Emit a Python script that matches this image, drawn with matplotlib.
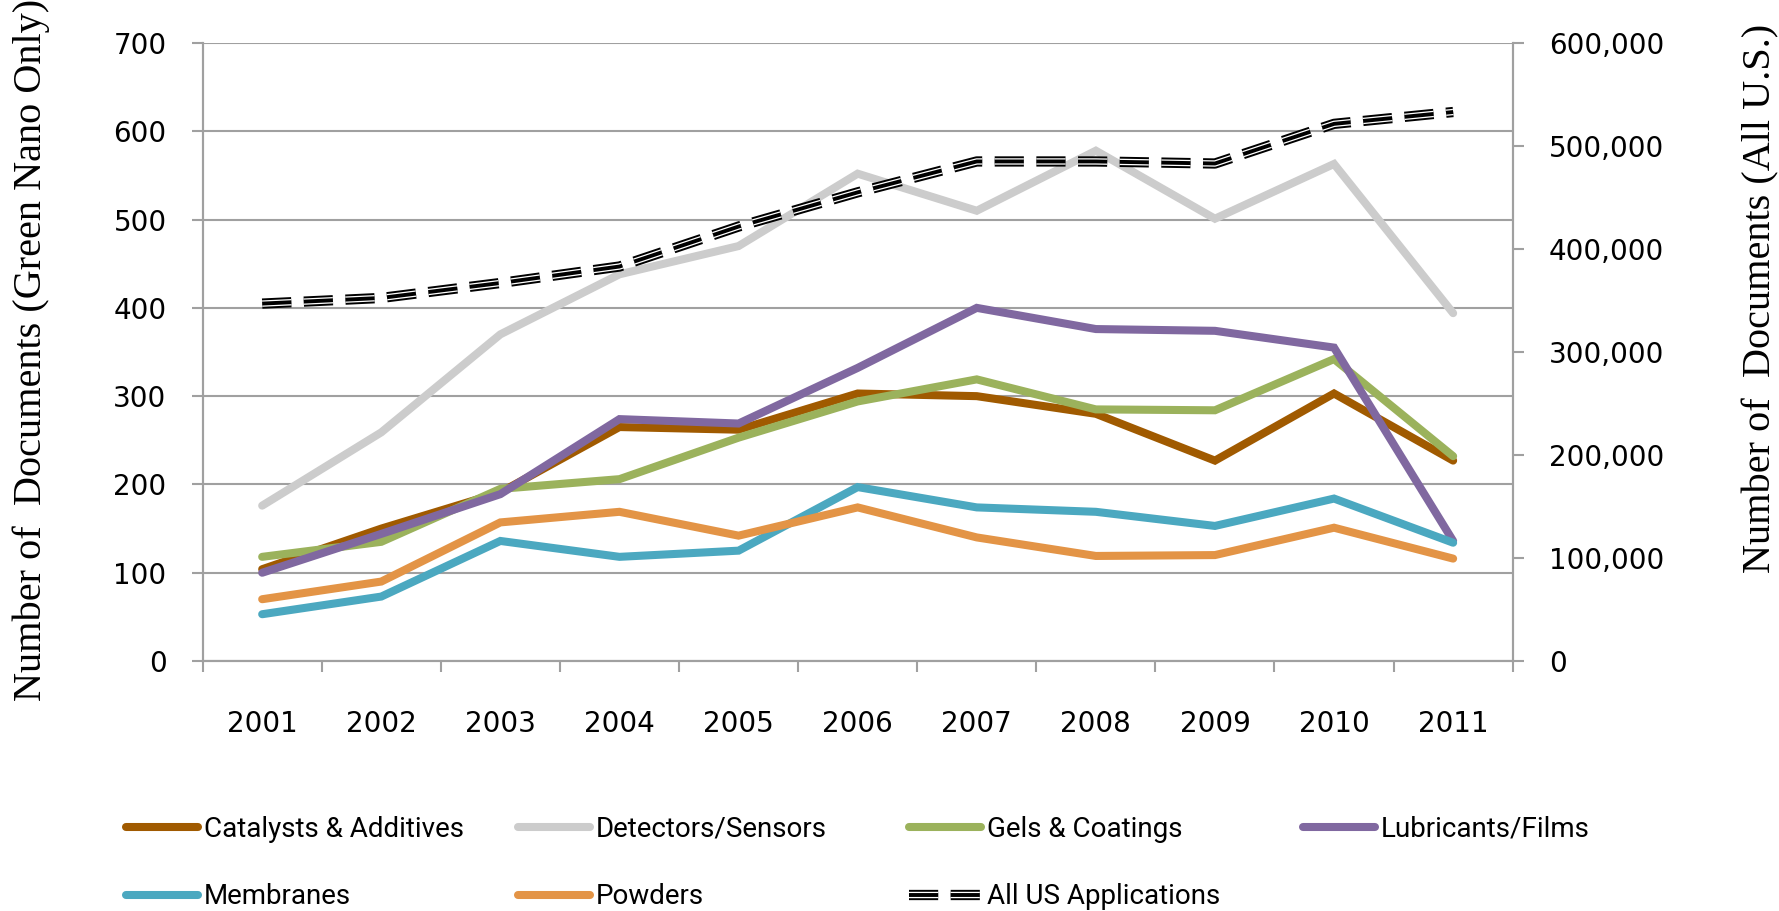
import matplotlib
matplotlib.use("Agg")
import matplotlib.pyplot as plt
import matplotlib.ticker as ticker

plt.rcParams['lines.scale_dashes'] = False

# datos
years = ['2001', '2002', '2003', '2004', '2005', '2006', '2007', '2008', '2009', '2010', '2011']
catalysts = [104, 150, 191, 265, 262, 303, 300, 280, 227, 303, 227]
detectors = [176, 259, 370, 438, 470, 552, 510, 578, 501, 563, 394]
gels = [118, 135, 195, 206, 253, 294, 319, 285, 284, 342, 232]
lubricants = [100, 144, 189, 274, 269, 332, 400, 376, 374, 355, 136]
membranes = [53, 73, 136, 118, 125, 197, 174, 169, 153, 184, 134]
powders = [70, 90, 157, 169, 142, 174, 140, 119, 120, 151, 116]
all_us = [347000, 352500, 367000, 383000, 421800, 455000, 485000, 485000, 483000, 521500, 533000]

series = [
    ("Catalysts & Additives", catalysts, "#A05A00"),
    ("Detectors/Sensors", detectors, "#CCCCCC"),
    ("Gels & Coatings", gels, "#9BB25C"),
    ("Lubricants/Films", lubricants, "#8068A0"),
    ("Membranes", membranes, "#4BA8C0"),
    ("Powders", powders, "#E39446"),
]

grid_col = "#A0A0A0"
lw = 5.8

fig = plt.figure(figsize=(17.79, 9.11), dpi=100)
ax = fig.add_axes([0.1139, 0.2744, 0.8503 - 0.1139, 0.9528 - 0.2744])
ax2 = ax.twinx()

x = list(range(len(years)))
handles = {}
for name, vals, col in series:
    h, = ax.plot(x, vals, color=col, lw=lw, solid_capstyle='round', solid_joinstyle='miter', zorder=3)
    handles[name] = h

# linea compuesta (triple raya) para All US
dash = (0, (21, 9))
kw = dict(dash_capstyle='butt', solid_joinstyle='miter')
l1, = ax2.plot(x, all_us, color='black', lw=7.4, linestyle=dash, **kw)
l2, = ax2.plot(x, all_us, color='white', lw=4.6, linestyle=dash, **kw)
l3, = ax2.plot(x, all_us, color='black', lw=2.8, linestyle=dash, **kw)
handles["All US Applications"] = (l1, l2, l3)

ax.set_xlim(-0.5, len(years) - 0.5)
ax.set_ylim(0, 700)
ax.set_yticks(range(0, 701, 100))
ax.set_xticks(x)
ax.set_xticklabels(years)
ax.set_xticks([i - 0.5 for i in range(len(years) + 1)], minor=True)
ax.grid(axis='y', color=grid_col, lw=1.5, zorder=0)
ax.set_axisbelow(True)

ax2.set_ylim(0, 600000)
ax2.set_yticks(range(0, 600001, 100000))
ax2.yaxis.set_major_formatter(ticker.FuncFormatter(lambda v, p: '{:,.0f}'.format(v)))

for a in (ax, ax2):
    a.spines['top'].set_visible(False)
    for s in ('left', 'right', 'bottom'):
        a.spines[s].set_color(grid_col)
        a.spines[s].set_linewidth(1.5)

ax.tick_params(axis='x', which='major', length=0, pad=35, labelsize=20)
ax.tick_params(axis='x', which='minor', length=8, width=1.5, color=grid_col, direction='out')
ax.tick_params(axis='y', length=8, width=1.5, color=grid_col, pad=18, labelsize=20)
ax2.tick_params(axis='y', length=8, width=1.5, color=grid_col, pad=18, labelsize=20)

fig.text(0.0175, 0.616, "Number of  Documents (Green Nano Only)", rotation=90,
         ha='center', va='center', family='Liberation Serif', fontsize=29)
fig.text(0.99, 0.672, "Number of  Documents (All U.S.)", rotation=90,
         ha='center', va='center', family='Liberation Serif', fontsize=29)

# leyenda: una por columna para igualar el espaciado
cols = [["Catalysts & Additives", "Membranes"],
        ["Detectors/Sensors", "Powders"],
        ["Gels & Coatings", "All US Applications"],
        ["Lubricants/Films"]]
col_x = [126, 518, 909, 1303]
for names, cx in zip(cols, col_x):
    fig.legend([handles[n] for n in names], names, loc='upper left',
               bbox_to_anchor=(cx / 1779, 1 - 816 / 911), frameon=False,
               prop={'family': 'Roboto', 'size': 20}, handlelength=2.6,
               handletextpad=0.2, labelspacing=1.45, borderpad=0, borderaxespad=0)

fig.savefig("out.png", dpi=100)
